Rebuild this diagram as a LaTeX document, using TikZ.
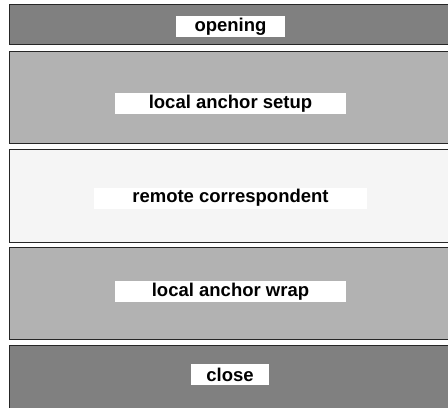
\documentclass[tikz,border=0pt]{standalone}
\usepackage{fontspec}
\setsansfont{Liberation Sans}
\usetikzlibrary{positioning}

\tikzset{
  panel/.style={draw=black!85, line width=1.4bp, anchor=north west,
                minimum width=470bp, inner sep=0pt},
  tag/.style={fill=white, inner xsep=0pt, inner ysep=0pt, minimum height=21bp,
              font=\sffamily\bfseries\fontsize{18.5bp}{20bp}\selectfont}
}

\begin{document}
\begin{tikzpicture}[x=1bp, y=-1bp]
  \clip (0,0) rectangle (448,407);
  \fill[white] (0,0) rectangle (448,407);
  % stages, top to bottom
  \node[panel, fill=black!50, minimum height=40bp] (opening) at (9,4) {};
  \node[panel, fill=black!30, minimum height=92bp] (setup) at (9,51) {};
  \node[panel, fill=black!4, minimum height=93bp] (remote) at (9,149) {};
  \node[panel, fill=black!30, minimum height=92bp] (wrap) at (9,247) {};
  \node[panel, fill=black!50, minimum height=80bp] (close) at (9,345) {};
  % labels
  \node[tag, minimum width=109bp] (openinglabel) at (230.5,26.5) {opening};
  \node[tag, minimum width=231bp] (setuplabel) at (230.5,103.5) {local anchor setup};
  \node[tag, minimum width=273bp] (remotelabel) at (230.5,198) {remote correspondent};
  \node[tag, minimum width=231bp] (wraplabel) at (230.5,291.5) {local anchor wrap};
  \node[tag, minimum width=78bp] (closelabel) at (230,374.5) {close};
\end{tikzpicture}
\end{document}
